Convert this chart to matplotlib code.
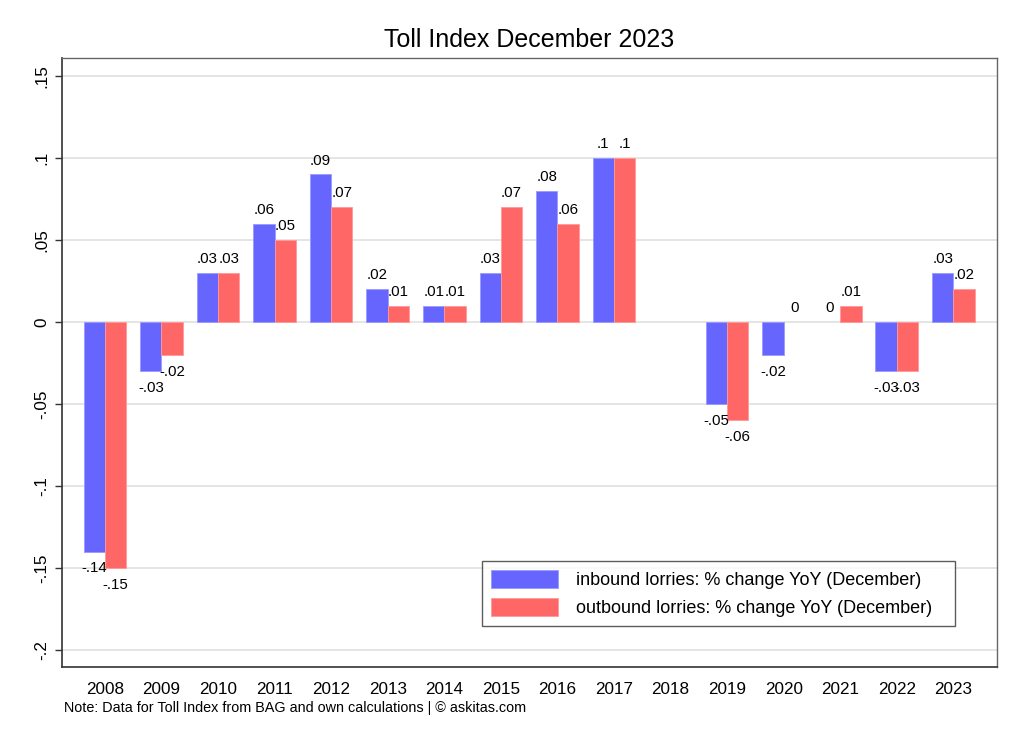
import numpy as np
import matplotlib.pyplot as plt

plt.rcParams['font.family'] = ['Liberation Sans', 'DejaVu Sans']

years = list(range(2008, 2024))
inbound = [-0.14, -0.03, 0.03, 0.06, 0.09, 0.02, 0.01, 0.03, 0.08, 0.10,
           np.nan, -0.05, -0.02, 0.00, -0.03, 0.03]
outbound = [-0.15, -0.02, 0.03, 0.05, 0.07, 0.01, 0.01, 0.07, 0.06, 0.10,
            np.nan, -0.06, 0.00, 0.01, -0.03, 0.02]
yticks = [0.15, 0.1, 0.05, 0, -0.05, -0.1, -0.15, -0.2]


def stata_fmt(v):
    if v == 0:
        return "0"
    s = f"{v:.2f}".rstrip("0")
    return s.replace("0.", ".")


fig = plt.figure(figsize=(10.24, 7.44), dpi=100)
ax = fig.add_axes([0.0605, 0.1035, 0.913, 0.8185])

w = 0.377
x = np.array(years, dtype=float)
blue = "#6666FF"
red = "#FF6666"
lw_in = [0 if v == 0 else 0.6 for v in inbound]
lw_out = [0 if v == 0 else 0.6 for v in outbound]
ax.bar(x - w / 2, inbound, w, color=blue, edgecolor="#9999FF", linewidth=lw_in,
       label="inbound lorries: % change YoY (December)", zorder=3)
ax.bar(x + w / 2, outbound, w, color=red, edgecolor="#FF9999", linewidth=lw_out,
       label="outbound lorries: % change YoY (December)", zorder=3)

for xs, vals in ((x - w / 2, inbound), (x + w / 2, outbound)):
    for xi, v in zip(xs, vals):
        if np.isnan(v):
            continue
        if v >= 0:
            ax.annotate(stata_fmt(v), (xi, v), xytext=(0, 5), textcoords="offset points",
                        ha="center", va="bottom", fontsize=10.8)
        else:
            ax.annotate(stata_fmt(v), (xi, v), xytext=(0, -7), textcoords="offset points",
                        ha="center", va="top", fontsize=10.8)

ax.set_xlim(2007.24, 2023.77)
ax.set_ylim(-0.2104, 0.161)
ax.set_xticks(years)
ax.set_xticklabels([str(y) for y in years], fontsize=12.3)
ax.tick_params(axis="x", length=0, pad=11)
ax.set_yticks(yticks)
ax.set_yticklabels([stata_fmt(t) for t in yticks], fontsize=12.3, rotation=90, va="center")
ax.tick_params(axis="y", length=5, width=1, color="#333333", pad=4)
ax.yaxis.grid(True, color="#E0E0E0", linewidth=1.2, zorder=0)
ax.set_axisbelow(True)
for side in ("left", "bottom"):
    ax.spines[side].set_color("#333333")
    ax.spines[side].set_linewidth(1.2)
for side in ("right", "top"):
    ax.spines[side].set_color("#666666")
    ax.spines[side].set_linewidth(1.0)

ax.set_title("Toll Index December 2023", fontsize=18, pad=8)

leg = ax.legend(loc="lower left", bbox_to_anchor=(0.4492, 0.0673, 0.5059, 0.1),
                mode="expand", borderaxespad=0,
                fontsize=13, handlelength=3.7, handleheight=1.1, frameon=True,
                fancybox=False, borderpad=0.5, labelspacing=0.5, handletextpad=1.0)
leg.get_frame().set_edgecolor("#333333")
leg.get_frame().set_linewidth(1.0)

fig.text(0.0625, 0.049, "Note: Data for Toll Index from BAG and own calculations | \u00a9 askitas.com",
         fontsize=10.4, ha="left", va="center")

fig.savefig("out.png", dpi=100)
